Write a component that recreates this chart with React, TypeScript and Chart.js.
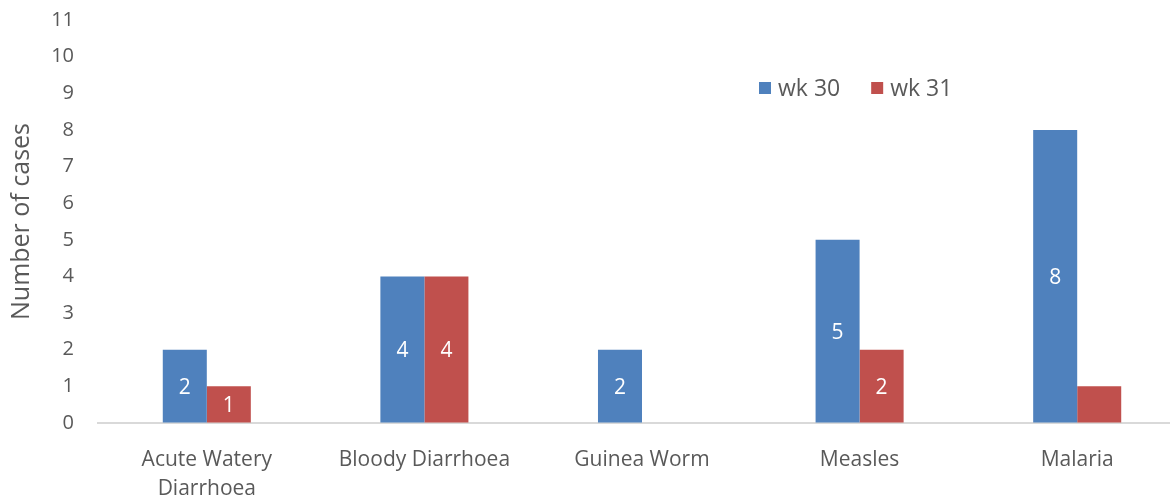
import React, { useEffect, useRef } from "react";
import { Chart, registerables } from "chart.js";

Chart.register(...registerables);

const categories: (string | string[])[] = [
  ["Acute Watery", "Diarrhoea"],
  "Bloody Diarrhoea",
  "Guinea Worm",
  "Measles",
  "Malaria",
];
const seriesNames = ["wk 30", "wk 31"];
const wk30 = [2, 4, 2, 5, 8];
const wk31 = [1, 4, 0, 2, 1];
const wk30ShowLabel = [true, true, true, true, true];
const wk31ShowLabel = [true, true, false, true, false];
const yTicks = [0, 1, 2, 3, 4, 5, 6, 7, 8, 9, 10, 11];

const BLUE = "#4F81BD";
const RED = "#C0504D";
const GRAY = "#595959";
const FONT = "'Open Sans', Lato, sans-serif";

const labelPlugin = {
  id: "barLabels",
  afterDatasetsDraw(chart: any) {
    const ctx = chart.ctx;
    const flags = [wk30ShowLabel, wk31ShowLabel];
    ctx.save();
    ctx.fillStyle = "#FFFFFF";
    ctx.font = `21px ${FONT}`;
    ctx.textAlign = "center";
    ctx.textBaseline = "middle";
    chart.data.datasets.forEach((ds: any, di: number) => {
      const meta = chart.getDatasetMeta(di);
      meta.data.forEach((el: any, i: number) => {
        if (!flags[di][i] || !ds.data[i]) return;
        const p = el.getProps(["x", "y", "base"], true);
        ctx.fillText(String(ds.data[i]), p.x, (p.y + p.base) / 2 + 2);
      });
    });
    ctx.restore();
  },
};

const legendPlugin = {
  id: "customLegend",
  afterDraw(chart: any) {
    const ctx = chart.ctx;
    ctx.save();
    ctx.font = `23px ${FONT}`;
    ctx.textBaseline = "middle";
    ctx.textAlign = "left";
    let x = 759;
    const cy = 88;
    chart.data.datasets.forEach((ds: any) => {
      ctx.fillStyle = ds.backgroundColor;
      ctx.fillRect(x, cy - 6, 12, 12);
      ctx.fillStyle = GRAY;
      ctx.fillText(ds.label, x + 19, cy + 1);
      x += 19 + ctx.measureText(ds.label).width + 31;
    });
    ctx.restore();
  },
};

export default function App() {
  const ref = useRef<HTMLCanvasElement | null>(null);
  useEffect(() => {
    document.documentElement.style.overflow = "hidden";
    document.body.style.margin = "0";
    const chart = new Chart(ref.current as HTMLCanvasElement, {
      type: "bar",
      data: {
        labels: categories,
        datasets: [
          { label: seriesNames[0], data: wk30, backgroundColor: BLUE, borderWidth: 0 },
          { label: seriesNames[1], data: wk31, backgroundColor: RED, borderWidth: 0 },
        ],
      },
      options: {
        animation: false,
        responsive: false,
        maintainAspectRatio: false,
        layout: { padding: { top: 20, right: 0, left: 0, bottom: 0 } },
        plugins: {
          legend: { display: false },
          tooltip: { enabled: false },
        },
        datasets: {
          bar: { categoryPercentage: 0.4046, barPercentage: 1 },
        },
        scales: {
          x: {
            grid: { display: false, drawTicks: false },
            border: { display: true, color: "#D9D9D9", width: 2 },
            ticks: {
              color: GRAY,
              font: { family: FONT, size: 21, lineHeight: 1.4 },
              padding: 22,
              maxRotation: 0,
              autoSkip: false,
            },
            afterFit: (s: any) => {
              s.height = 79;
            },
          },
          y: {
            min: 0,
            max: 11,
            afterBuildTicks: (s: any) => {
              s.ticks = yTicks.map((v) => ({ value: v }));
            },
            grid: {
              display: true,
              drawOnChartArea: false,
              drawTicks: true,
              tickLength: 24,
              tickColor: "rgba(0,0,0,0)",
              color: "rgba(0,0,0,0)",
            },
            border: { display: false },
            ticks: {
              color: GRAY,
              font: { family: FONT, size: 20 },
              padding: 0,
            },
            title: {
              display: true,
              text: "Number of cases",
              color: GRAY,
              font: { family: FONT, size: 25, lineHeight: 1.2 },
              padding: { top: 7, bottom: 0 },
            },
            afterFit: (s: any) => {
              s.width = 98;
            },
          },
        },
      },
      plugins: [labelPlugin, legendPlugin],
    });
    return () => chart.destroy();
  }, []);
  return (
    <div style={{ position: "fixed", left: 0, top: 0, width: 1186, height: 502 }}>
      <canvas ref={ref} width={1186} height={502} style={{ width: 1186, height: 502 }} />
    </div>
  );
}
